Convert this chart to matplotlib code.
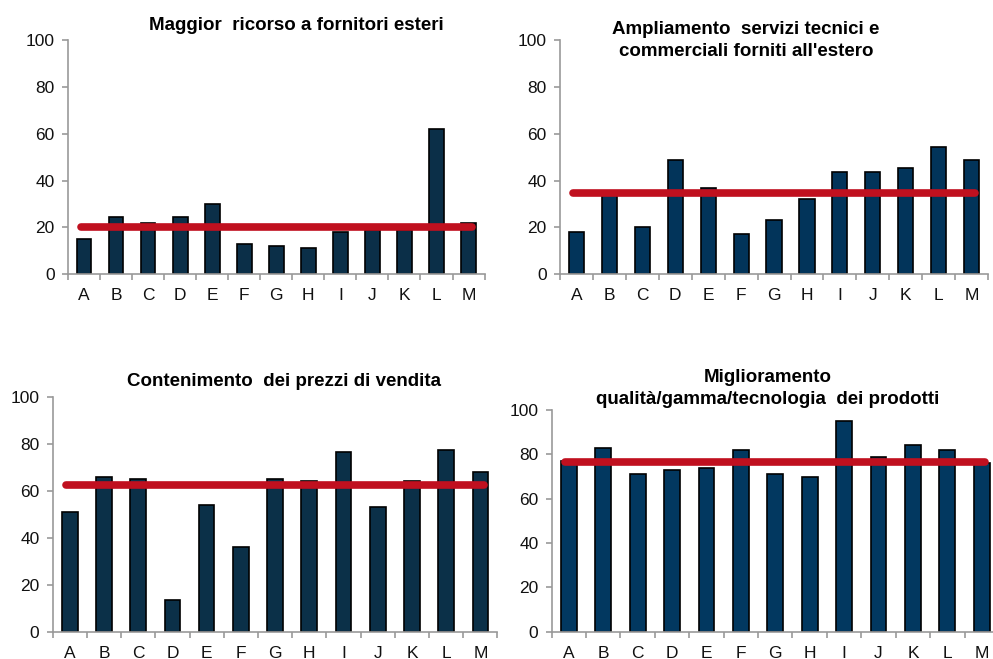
import numpy as np
import matplotlib.pyplot as plt

plt.rcParams['font.family'] = ['Liberation Sans', 'DejaVu Sans']

categories = ['A', 'B', 'C', 'D', 'E', 'F', 'G', 'H', 'I', 'J', 'K', 'L', 'M']

fornitori = [15, 24.5, 22, 24.5, 30, 13, 12, 11, 18, 19, 19, 62, 22]
fornitori_media = 20.3

servizi = [18, 34, 20, 49, 37, 17, 23, 32, 43.5, 43.5, 45.5, 54.5, 49]
servizi_media = 34.5

prezzi = [51, 66, 65, 13.5, 54, 36, 65, 64, 76.5, 53, 64, 77.5, 68]
prezzi_media = 62.5

qualita = [77, 83, 71, 73, 74, 82, 71, 70, 95, 79, 84, 82, 76]
qualita_media = 76.5

titles = ['Maggior  ricorso a fornitori esteri',
          'Ampliamento  servizi tecnici e\ncommerciali forniti all\'estero',
          'Contenimento  dei prezzi di vendita',
          'Miglioramento\nqualità/gamma/tecnologia  dei prodotti']

fig = plt.figure(figsize=(9.93, 6.59), dpi=100)

# [left, bottom, width, height] in figure fraction
boxes = [[0.0685, 0.584, 0.4195, 0.355],
         [0.564, 0.584, 0.431, 0.355],
         [0.053, 0.0414, 0.448, 0.3566],
         [0.5555, 0.0414, 0.4505, 0.3364]]
title_y = [25, 40.5, 381, 388.5]  # pixel centre of title block
title_x = [296, 746, 284, 768]
colors = ['#0b2f48', '#02345a', '#0b3048', '#023860']

series = [(fornitori, fornitori_media), (servizi, servizi_media),
          (prezzi, prezzi_media), (qualita, qualita_media)]

x = np.arange(len(categories))
for i, (vals, media) in enumerate(series):
    ax = fig.add_axes(boxes[i])
    ax.bar(x, vals, width=0.46, color=colors[i], edgecolor='black', linewidth=1.2, zorder=2)
    ax.plot([x[0] - 0.1, x[-1] + 0.1], [media, media], color='#c0101f', linewidth=5.5,
            solid_capstyle='round', zorder=3)
    ax.set_xlim(-0.5, len(categories) - 0.5)
    ax.set_ylim(0, 100)
    ax.set_yticks(range(0, 101, 20))
    ax.set_xticks(x)
    ax.set_xticklabels(categories)
    ax.set_xticks(np.arange(-0.5, len(categories)), minor=True)
    ax.tick_params(axis='x', which='major', length=0, pad=10, labelsize=12.5, labelcolor='#111111')
    ax.tick_params(axis='x', which='minor', length=4, width=1.2, color='#999999', direction='out')
    ax.tick_params(axis='y', length=4.5, width=1.2, color='#999999', labelsize=12.5,
                   labelcolor='#111111', pad=5)
    for s in ['top', 'right']:
        ax.spines[s].set_visible(False)
    for s in ['left', 'bottom']:
        ax.spines[s].set_color('#999999')
        ax.spines[s].set_linewidth(1.2)
    fig.text(title_x[i] / 993, 1 - title_y[i] / 659, titles[i], ha='center', va='center',
             fontsize=13.5, fontweight='bold', linespacing=1.35)

fig.savefig('out.png', dpi=100)
